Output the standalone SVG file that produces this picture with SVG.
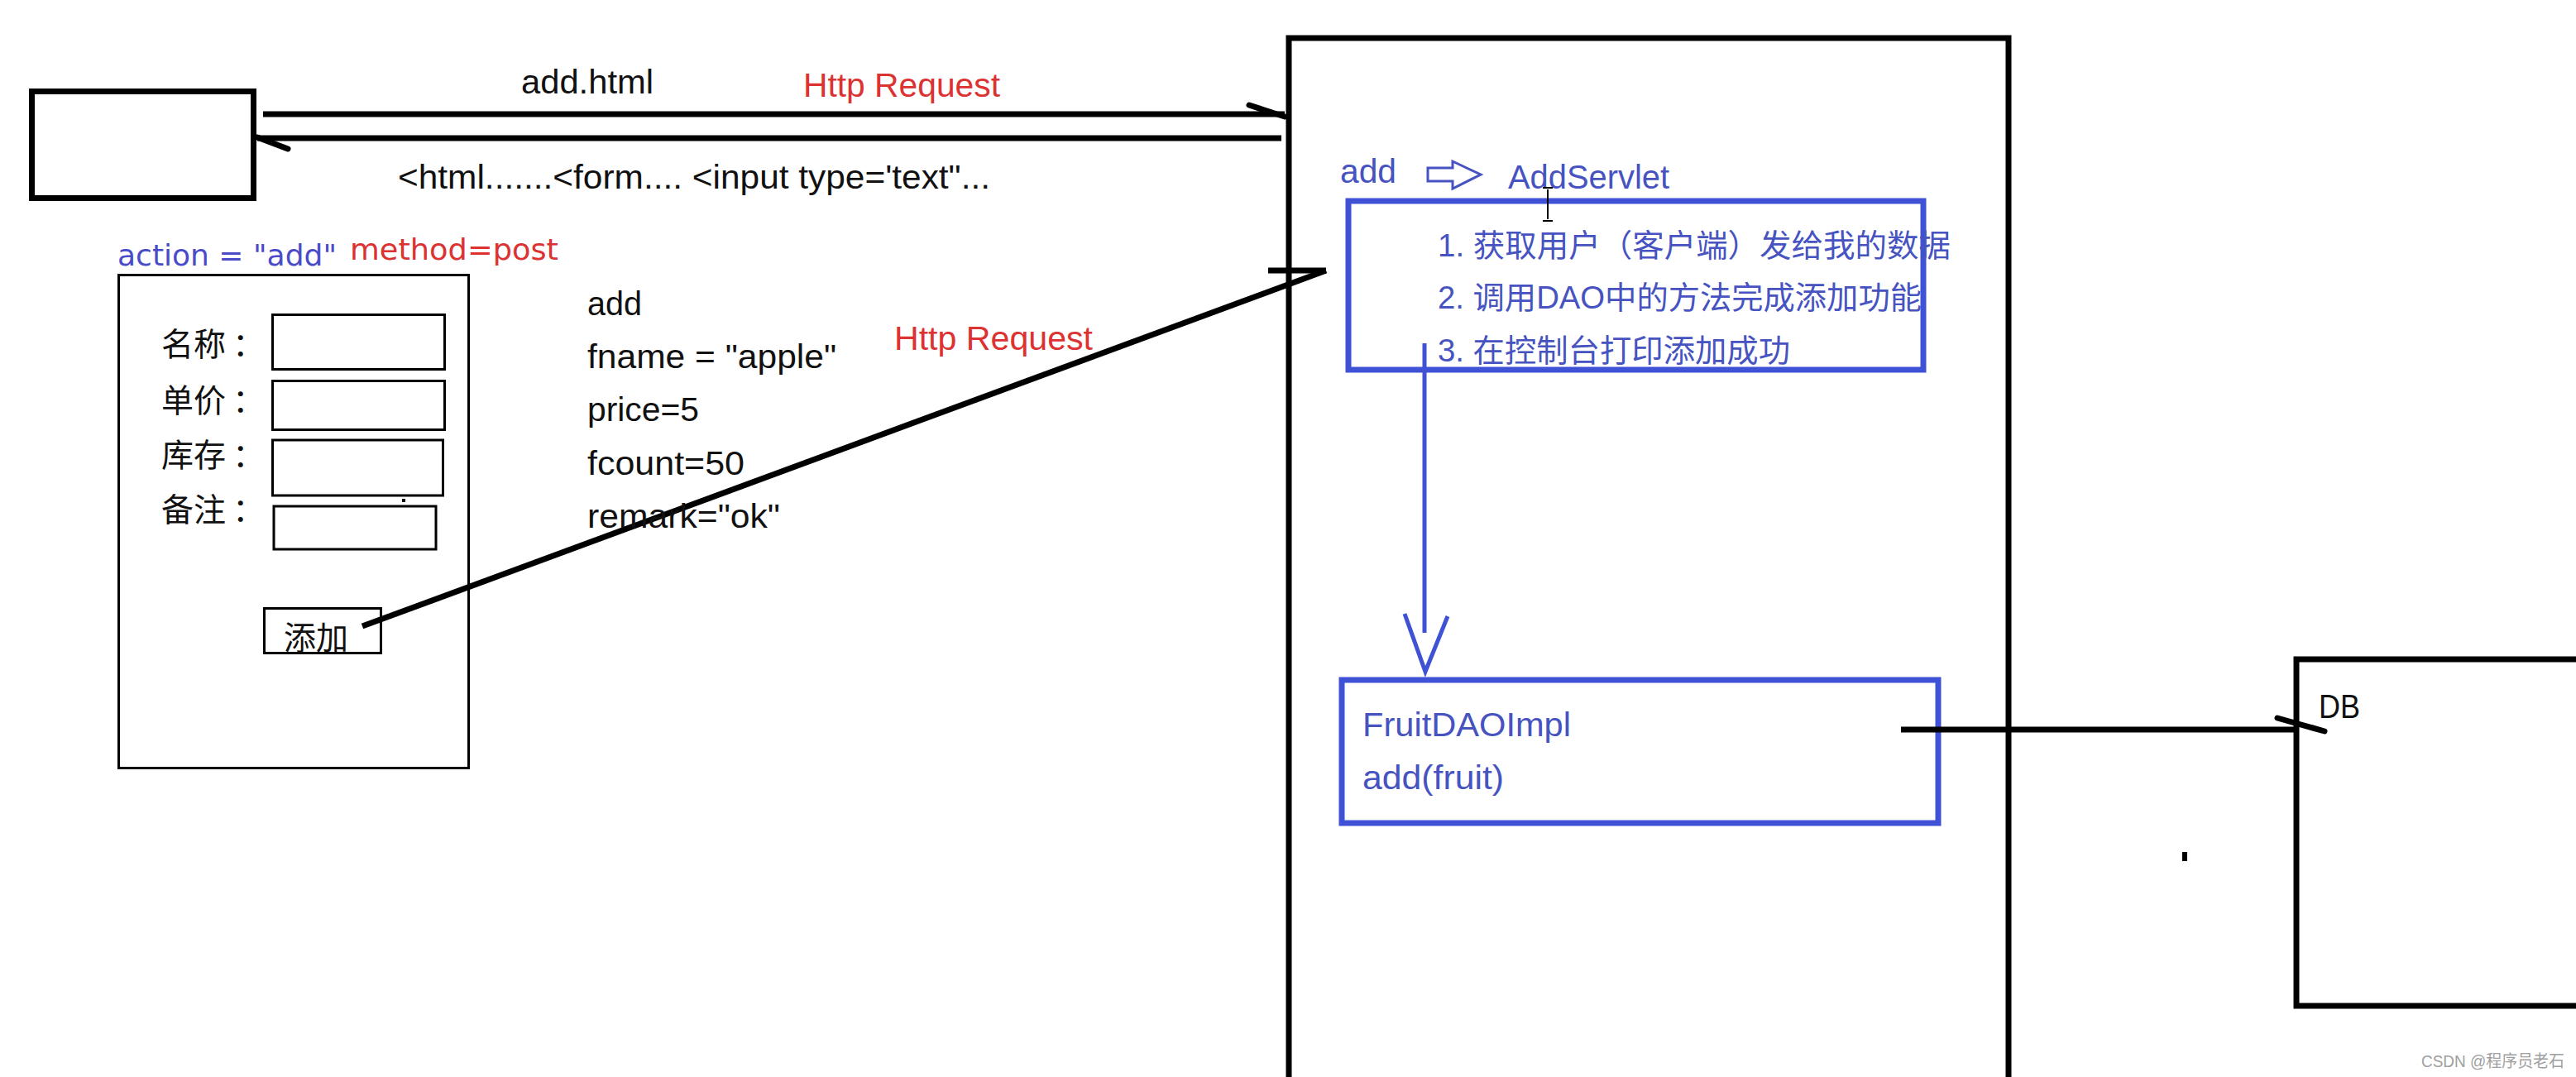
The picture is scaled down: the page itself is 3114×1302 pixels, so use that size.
<svg xmlns="http://www.w3.org/2000/svg" width="3114" height="1302" viewBox="0 0 3114 1302">
<style>
.blk{fill:none;stroke:#000;stroke-width:7}
.thin{fill:none;stroke:#000;stroke-width:3}
.blue{fill:none;stroke:#3f51d4;stroke-width:7}
.bl5{fill:none;stroke:#3f51d4;stroke-width:5}
.ln{fill:none;stroke:#000;stroke-width:7}
.t{font-family:"Liberation Sans","Noto Sans CJK SC",sans-serif;font-size:40px;fill:#111}
.red{fill:#dc3232}
.bt{fill:#4653c0}
.cn{font-family:"Liberation Sans","Noto Sans CJK SC",sans-serif;font-size:38px}
.v{font-family:"DejaVu Sans",sans-serif;font-size:36px}
.lbl{font-family:"Noto Sans CJK SC",sans-serif;font-size:39px;fill:#111}
</style>
<rect width="3114" height="1302" fill="#fff"/>

<g id="browser">
  <rect class="blk" x="38.5" y="110.5" width="268" height="129"/>
</g>

<g id="form">
  <text class="v" x="142" y="321" fill="#4a4bc8" textLength="265" lengthAdjust="spacingAndGlyphs">action = "add"</text>
  <text class="v red" x="423" y="314" textLength="252" lengthAdjust="spacingAndGlyphs">method=post</text>
  <rect class="thin" x="143.5" y="332.5" width="423" height="596"/>
  <text class="lbl" x="195" y="430">名称<tspan dx="8">：</tspan></text>
  <text class="lbl" x="195" y="498">单价<tspan dx="8">：</tspan></text>
  <text class="lbl" x="195" y="564">库存<tspan dx="8">：</tspan></text>
  <text class="lbl" x="195" y="630">备注<tspan dx="8">：</tspan></text>
  <rect class="thin" x="329.5" y="380.5" width="208" height="66"/>
  <rect class="thin" x="329.5" y="460.5" width="208" height="59"/>
  <rect class="thin" x="329.5" y="532" width="206" height="67"/>
  <rect class="thin" x="331" y="612" width="196" height="52"/>
  <rect x="486" y="603" width="4" height="4" fill="#000"/>
  <g id="add-button">
    <rect class="thin" x="319.5" y="735.5" width="141" height="54"/>
    <text class="lbl" x="343" y="785" font-size="37">添加</text>
  </g>
</g>

<g id="servlet-container">
  <path class="blk" d="M1558,1310V46H2428V1310"/>
</g>

<g id="add-servlet">
  <text class="t bt" x="1620" y="221" textLength="68" lengthAdjust="spacingAndGlyphs">add</text>
  <polygon points="1726,203 1756,203 1756,195 1790,211 1756,228 1756,219 1726,219" fill="#fff" stroke="#4653c0" stroke-width="3"/>
  <text class="t bt" x="1823" y="228" textLength="195" lengthAdjust="spacingAndGlyphs">AddServlet</text>
  <rect class="blue" x="1630" y="243" width="695" height="204"/>
  <text class="cn bt" x="1738" y="310" textLength="620" lengthAdjust="spacingAndGlyphs">1. 获取用户（客户端）发给我的数据</text>
  <text class="cn bt" x="1738" y="373" textLength="585" lengthAdjust="spacingAndGlyphs">2. 调用DAO中的方法完成添加功能</text>
  <text class="cn bt" x="1738" y="437" textLength="426" lengthAdjust="spacingAndGlyphs">3. 在控制台打印添加成功</text>
</g>

<g id="fruit-dao-impl">
  <rect class="blue" x="1622" y="822" width="721" height="173"/>
  <text class="t bt" x="1647" y="890" textLength="252" lengthAdjust="spacingAndGlyphs">FruitDAOImpl</text>
  <text class="t bt" x="1647" y="954" textLength="171" lengthAdjust="spacingAndGlyphs">add(fruit)</text>
</g>

<g id="db">
  <path class="blk" d="M3120,797H2776V1216H3120"/>
  <text class="t" x="2803" y="868" textLength="50" lengthAdjust="spacingAndGlyphs">DB</text>
</g>

<g id="connectors">
  <path class="ln" d="M318,138H1553"/>
  <path class="ln" stroke-width="6" stroke-linecap="round" d="M1510,127L1553,141"/>
  <path class="ln" d="M311,167H1549"/>
  <path class="ln" stroke-width="6" stroke-linecap="round" d="M311,166L348,180"/>
  <path class="ln" stroke-width="5" d="M438,757L1603,327"/>
  <path class="ln" stroke-width="8" d="M1533,327H1603"/>
  <path class="bl5" d="M1722,415V765"/>
  <path class="bl5" d="M1698,742L1723,812L1750,745"/>
  <path class="ln" d="M2298,882H2776"/>
  <path class="ln" stroke-width="6" stroke-linecap="round" d="M2753,868L2810,884"/>
</g>

<g id="labels">
  <text class="t" x="630" y="113" textLength="160" lengthAdjust="spacingAndGlyphs">add.html</text>
  <text class="t red" x="971" y="117" textLength="238" lengthAdjust="spacingAndGlyphs">Http Request</text>
  <text class="t" x="481" y="228" textLength="716" lengthAdjust="spacingAndGlyphs">&lt;html.......&lt;form.... &lt;input type='text"...</text>
  <text class="t" x="710" y="381" textLength="66" lengthAdjust="spacingAndGlyphs">add</text>
  <text class="t" x="710" y="445" textLength="301" lengthAdjust="spacingAndGlyphs">fname =  "apple"</text>
  <text class="t" x="710" y="509" textLength="135" lengthAdjust="spacingAndGlyphs">price=5</text>
  <text class="t" x="710" y="574" textLength="190" lengthAdjust="spacingAndGlyphs">fcount=50</text>
  <text class="t" x="710" y="638" textLength="233" lengthAdjust="spacingAndGlyphs">remark="ok"</text>
  <text class="t red" x="1081" y="423" textLength="240" lengthAdjust="spacingAndGlyphs">Http Request</text>
</g>

<g id="marks">
  <path d="M1871,229V265M1865,227H1877M1865,267H1877" fill="none" stroke="#000" stroke-width="2"/>
  <rect x="2638" y="1030" width="6" height="11" fill="#000"/>
  <text x="2927" y="1290" font-family="Liberation Sans,'Noto Sans CJK SC',sans-serif" font-size="20" fill="#a0a0a0" textLength="173" lengthAdjust="spacingAndGlyphs">CSDN @程序员老石</text>
</g>
</svg>
